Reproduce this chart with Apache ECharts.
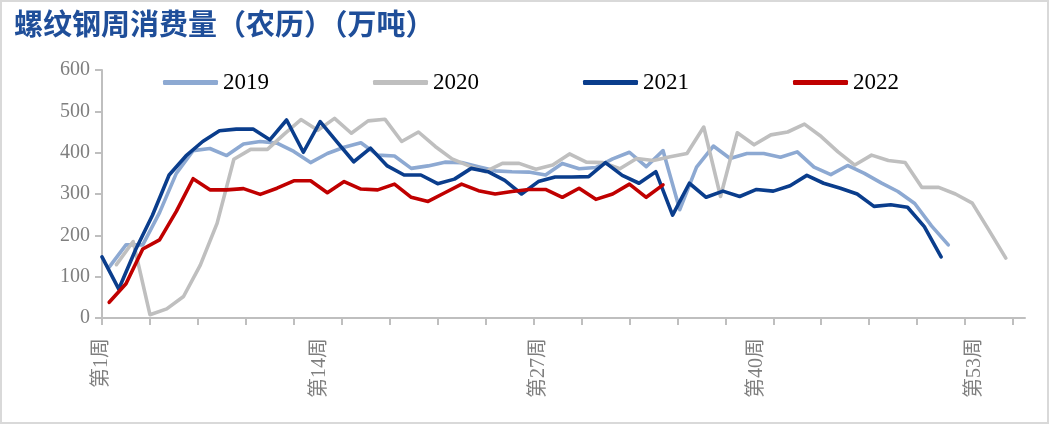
<!DOCTYPE html>
<html><head><meta charset="utf-8">
<script src="https://cdn.jsdelivr.net/npm/echarts@6/dist/echarts.min.js"></script>
<style>html,body{margin:0;padding:0;background:#fff}#c{width:1051px;height:425px}</style>
</head><body><div id="c"></div>
<script>
// Series names
const years = ['2019', '2020', '2021', '2022'];
// Day (since lunar new year) of each series' first weekly reading
const startDays = [3, 6, 0, 3];
// Weekly consumption, 10k tonnes, lunar-calendar week 1..n
const v2019 = [123,177,177,255,350,405,410,393,421,427,423,403,376,398,413,424,394,392,362,368,377,376,366,356,354,353,346,374,361,364,385,401,366,405,262,365,416,386,398,398,389,402,365,347,369,350,327,306,277,223,177];
const v2020 = [129,185,8,22,52,128,229,384,408,408,445,480,454,483,447,477,481,427,450,415,385,368,354,374,374,360,370,397,377,376,361,386,381,390,398,462,294,448,419,443,450,469,439,402,370,394,381,376,316,316,300,278,212,145];
const v2021 = [148,70,165,248,346,392,427,453,457,457,431,479,401,475,426,378,411,368,346,346,325,336,362,354,333,300,330,341,341,342,376,345,326,354,249,326,292,307,294,311,307,320,345,326,314,300,270,274,268,221,148];
const v2022 = [38,83,167,189,258,337,310,310,313,299,314,332,332,303,330,312,310,324,292,282,303,324,308,300,306,311,311,292,314,287,300,324,292,322];
const seriesValues = [v2019, v2020, v2021, v2022];
// x axis: days since lunar new year
const tickDays = [0,20,40,60,80,100,120,140,160,180,200,220,240,260,280,300,320,340,360,380];
const labelDays = [0, 91, 182, 273, 364];
const labelTexts = ['第1周', '第14周', '第27周', '第40周', '第53周'];
const yTicks = [0, 100, 200, 300, 400, 500, 600];

const colors = ['#8DA9D2', '#BFBFBF', '#0A3D8C', '#C00000'];
const chart = echarts.init(document.getElementById('c'), null, {renderer: 'canvas'});
const axisGray = '#BFBFBF';
const labelGray = '#7F7F7F';

const series = years.map((y, k) => ({
  name: y,
  type: 'line',
  showSymbol: false,
  symbol: 'none',
  data: seriesValues[k].map((v, i) => [startDays[k] + 7 * i, v]),
  lineStyle: {width: 3.6, color: colors[k], cap: 'round', join: 'round'},
  itemStyle: {color: colors[k]},
  z: 2 + k
}));

chart.setOption({
  animation: false,
  backgroundColor: '#fff',
  title: {
    text: '螺纹钢周消费量（农历）（万吨）',
    left: 9, top: 4,
    textStyle: {fontSize: 29, fontWeight: 'bold', color: '#1F4E99', fontFamily: 'Noto Sans CJK SC'}
  },
  legend: {
    data: years,
    left: 158, top: 66,
    icon: 'roundRect',
    itemWidth: 55, itemHeight: 5, itemGap: 104,
    textStyle: {fontSize: 23, color: '#000', fontFamily: 'Liberation Serif'}
  },
  grid: {left: 102, right: 26, top: 70, bottom: 107, containLabel: false},
  xAxis: {
    type: 'value', min: 0, max: 385,
    axisLine: {show: true, lineStyle: {color: axisGray, width: 2}},
    axisTick: {show: true, length: 7, lineStyle: {color: axisGray, width: 2}, customValues: tickDays},
    axisLabel: {
      customValues: labelDays,
      formatter: v => { const i = labelDays.indexOf(v); return i >= 0 ? labelTexts[i] : ''; },
      rotate: 90, margin: 20, color: labelGray, fontSize: 20,
      fontFamily: 'Liberation Serif, Noto Sans CJK SC'
    },
    splitLine: {show: false}
  },
  yAxis: {
    type: 'value', min: yTicks[0], max: yTicks[yTicks.length - 1], interval: 100,
    axisLine: {show: true, lineStyle: {color: axisGray, width: 2}},
    axisTick: {show: true, length: 7, lineStyle: {color: axisGray, width: 2}},
    axisLabel: {margin: 12, color: labelGray, fontSize: 20, fontFamily: 'Liberation Serif'},
    splitLine: {show: false}
  },
  graphic: [{
    type: 'rect', silent: true, z: -1,
    shape: {x: 1, y: 1, width: 1047, height: 422},
    style: {fill: null, stroke: '#D9D9D9', lineWidth: 2}
  }],
  series: series
});
</script></body></html>
